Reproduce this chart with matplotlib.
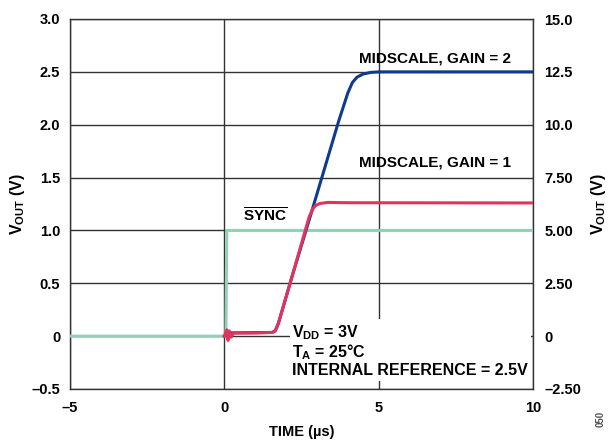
import matplotlib.pyplot as plt

plt.rcParams['font.family'] = ['Liberation Sans', 'DejaVu Sans']
plt.rcParams['font.weight'] = 'bold'
plt.rcParams['mathtext.fontset'] = 'custom'
plt.rcParams['mathtext.rm'] = 'Liberation Sans:bold'
plt.rcParams['mathtext.bf'] = 'Liberation Sans:bold'
plt.rcParams['mathtext.it'] = 'Liberation Sans:bold'

# data (time in us, output in V)
sync_t = [-5, 0.05, 0.08, 10]
sync_v = [0, 0, 1.0, 1.0]

gain2_t = [0, 0.1, 1.55, 1.65, 1.75, 2.2, 2.78, 3.2, 3.7, 4.0, 4.15, 4.3, 4.5, 4.75, 5.0, 10]
gain2_v = [0, 0.03, 0.035, 0.05, 0.12, 0.57, 1.13, 1.54, 2.03, 2.30, 2.40, 2.45, 2.48, 2.495, 2.5, 2.5]

gain1_t = [0, 0.08, 0.12, 0.16, 0.22, 0.3, 1.0, 1.55, 1.65, 1.75, 2.2, 2.75, 2.86, 2.95, 3.1, 3.35, 4.0, 10]
gain1_v = [0, 0.06, -0.04, 0.05, -0.01, 0.03, 0.03, 0.035, 0.05, 0.12, 0.57, 1.13, 1.2, 1.235, 1.255, 1.265, 1.262, 1.26]

x_ticks = [-5, 0, 5, 10]
x_labels = ['\u20135', '0', '5', '10']
left_ticks = [-0.5, 0, 0.5, 1.0, 1.5, 2.0, 2.5, 3.0]
left_labels = ['\u20130.5', '0', '0.5', '1.0', '1.5', '2.0', '2.5', '3.0']
right_ticks = [-2.5, 0, 2.5, 5.0, 7.5, 10.0, 12.5, 15.0]
right_labels = ['\u20132.50', '0', '2.50', '5.00', '7.50', '10.0', '12.5', '15.0']

fig = plt.figure(figsize=(6.14, 4.43), dpi=100)
ax = fig.add_axes([70 / 614, 54 / 443, 463 / 614, 370 / 443])

ax.plot(sync_t, sync_v, color='#93d1b5', lw=2.2, zorder=3)
ax.plot(gain2_t, gain2_v, color='#0f3b8c', lw=2.2, zorder=4)
ax.plot(gain1_t, gain1_v, color='#e5325c', lw=2.2, zorder=5)

ax.set_xlim(-5, 10)
ax.set_ylim(-0.5, 3.0)
ax.set_xticks(x_ticks)
ax.set_xticklabels(x_labels)
ax.set_yticks(left_ticks)
ax.set_yticklabels(left_labels)
ax.grid(True, color='#333333', lw=1.0, zorder=1)
ax.set_axisbelow(True)
ax.tick_params(axis='y', length=0, labelsize=10.5, pad=7)
ax.tick_params(axis='x', length=0, labelsize=10.5, pad=9)
for s in ax.spines.values():
    s.set_color('#333333')
    s.set_linewidth(1.0)

ax.set_xlabel('TIME (\u00b5s)', fontsize=10.5, fontweight='bold', labelpad=7)
ax.set_ylabel(r'V$_{\mathrm{OUT}}$ (V)', fontsize=11.5, fontweight='bold', labelpad=3)

ax2 = ax.twinx()
ax2.set_ylim(-2.5, 15.0)
ax2.set_yticks(right_ticks)
ax2.set_yticklabels(right_labels)
ax2.tick_params(length=0, labelsize=10.5, pad=8)
ax2.set_ylabel(r'V$_{\mathrm{OUT}}$ (V)', fontsize=11.5, fontweight='bold', labelpad=6,
               rotation=90)
for s in ax2.spines.values():
    s.set_visible(False)

ax.text(6.82, 2.63, 'MIDSCALE, GAIN = 2', fontsize=11, fontweight='bold',
        ha='center', va='center', zorder=6)
ax.text(6.82, 1.64, 'MIDSCALE, GAIN = 1', fontsize=11, fontweight='bold',
        ha='center', va='center', zorder=6)
ax.text(1.32, 1.14, r'$\overline{\mathrm{SYNC}}$', fontsize=11,
        ha='center', va='center', zorder=6)

note = ('$\\mathrm{V_{DD}}$ = 3V\n'
        '$\\mathrm{T_A}$ = 25\u00b0C\n'
        'INTERNAL REFERENCE = 2.5V')
ax.text(2.2, -0.135, note, fontsize=11.5, fontweight='bold', ha='left', va='center',
        linespacing=1.05, zorder=6,
        bbox=dict(facecolor='white', edgecolor='none', pad=2))

fig.text(0.978, 0.035, '050', fontsize=7, color='#555555', rotation=90,
         ha='center', va='bottom')

plt.savefig('out.png', dpi=100)
plt.close()
